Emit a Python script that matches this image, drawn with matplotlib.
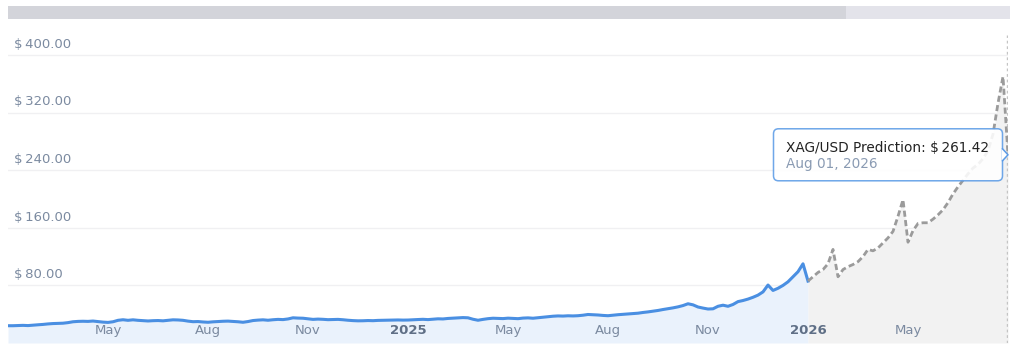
import numpy as np
import matplotlib
matplotlib.use("Agg")
import matplotlib.pyplot as plt
from matplotlib.patches import FancyBboxPatch, Rectangle, Polygon
from matplotlib.transforms import blended_transform_factory

# historical XAG/USD, one sample per ~5 px of the ordinal axis
hist = [
    24.0, 24.0, 24.3, 24.5, 24.2, 24.8, 25.3, 25.8, 26.5, 27.0,
    27.2, 27.5, 28.3, 29.5, 30.0, 30.2, 30.0, 30.5, 29.8, 29.0,
    28.6, 29.5, 31.5, 32.3, 31.5, 32.2, 31.5, 31.0, 30.6, 31.0,
    31.2, 30.8, 31.5, 32.2, 32.0, 31.5, 30.4, 29.6, 29.8, 29.2,
    28.8, 29.4, 29.8, 30.2, 30.4, 30.0, 29.5, 28.8, 29.8, 31.2,
    31.8, 32.2, 31.6, 32.3, 32.8, 32.5, 33.4, 35.0, 34.6, 34.4,
    33.6, 32.8, 33.2, 32.9, 32.4, 32.6, 32.8, 32.3, 31.6, 31.1,
    30.8, 30.9, 31.2, 31.0, 31.4, 31.5, 31.7, 31.9, 32.0, 31.8,
    31.9, 32.3, 32.6, 32.9, 32.5, 33.1, 33.6, 33.4, 34.1, 34.5,
    34.8, 35.3, 35.0, 33.0, 31.6, 32.8, 33.8, 34.4, 34.2, 33.9,
    34.5, 34.2, 33.8, 34.6, 34.9, 34.4, 35.1, 35.8, 36.6, 37.2,
    37.6, 37.4, 37.8, 37.6, 37.9, 38.6, 39.6, 39.3, 38.9, 38.3,
    37.9, 38.6, 39.3, 39.8, 40.3, 40.9, 41.4, 42.4, 43.2, 44.2,
    45.2, 46.5, 47.6, 48.8, 50.2, 52.0, 54.5, 53.0, 50.0, 48.5,
    47.2, 47.5, 51.0, 52.5, 51.0, 53.5, 57.5, 59.0, 61.0, 63.5,
    66.5, 71.0, 80.5, 73.0, 76.0, 80.0, 85.0, 92.0, 99.0, 110.0,
    86.0,
]

# prediction, starts at the last historical value
pred = [
    86, 92, 98, 102, 110, 130, 92, 102, 106, 109,
    113, 120, 130, 128, 132, 139, 146, 155, 176, 199,
    140, 156, 166, 167, 167, 172, 178, 185, 195, 207,
    217, 226, 235, 243, 248, 256, 267, 290, 333, 370,
    261.42,
]

tick_labels = ["May", "Aug", "Nov", "2025", "May", "Aug", "Nov", "2026", "May"]
tick_bold = [False, False, False, True, False, False, False, True, False]
tick_every = 20  # samples between axis labels

y_ticks = [80, 160, 240, 320, 400]
hover_label = "XAG/USD Prediction: $\u2009261.42"
hover_date = "Aug 01, 2026"

W, H = 1024, 358
fig = plt.figure(figsize=(W / 100, H / 100), dpi=100)
fig.patch.set_facecolor("white")

ax = fig.add_axes([8 / W, (H - 343) / H, 1000 / W, 308 / H])
x_hist = np.arange(len(hist))
x_pred = np.arange(len(pred)) + len(hist) - 1

ax.fill_between(x_hist, hist, 0, color="#eaf2fc", lw=0, zorder=1)
ax.fill_between(x_pred, pred, 0, color="#f2f2f2", lw=0, zorder=1)
ax.plot(x_hist, hist, color="#4a8fe2", lw=2.2, solid_joinstyle="round", zorder=3)
ax.plot(x_pred, pred, color="#9b9b9b", lw=2.0, ls=(0, (2.2, 1.2)), zorder=3)

ax.set_xlim(0, x_pred[-1])
ax.set_ylim(0, 427.8)
ax.set_yticks(y_ticks)
ax.set_xticks([])
ax.tick_params(left=False, labelleft=False)
ax.grid(axis="y", color="#f0f0f2", lw=1)
ax.set_axisbelow(True)
for s in ax.spines.values():
    s.set_visible(False)

for v in y_ticks:
    ax.annotate(f"$\u2009{v:.2f}", xy=(0, v), xycoords=("axes fraction", "data"),
                xytext=(4.5, 3), textcoords="offset points", ha="left", va="bottom",
                fontsize=9.5, color="#7b8aa0")

bt = blended_transform_factory(ax.transData, ax.transAxes)
for i, (lab, b) in enumerate(zip(tick_labels, tick_bold)):
    ax.text((i + 1) * tick_every, 0.042, lab, transform=bt, ha="center", va="center",
            fontsize=9.5, fontweight="bold" if b else "normal",
            color="#5f6f86" if b else "#7b8aa0", zorder=4)

# hover line
ax.axvline(x_pred[-1] - 0.2, color="#c4c4c4", lw=1, ls=(0, (2, 2)), zorder=2)

# overlay in pixel coordinates for scrollbar and tooltip
ov = fig.add_axes([0, 0, 1, 1], facecolor="none")
ov.set_xlim(0, W)
ov.set_ylim(H, 0)
ov.axis("off")

ov.add_patch(Rectangle((8, 6), 1002, 13, color="#e3e3ea", lw=0))
ov.add_patch(Rectangle((8, 6), 838, 13, color="#d3d4da", lw=0))

tip = ov.transData.inverted().transform(ax.transData.transform((x_pred[-1], pred[-1])))
bx1 = tip[0] - 5.5
bx0 = bx1 - 229
by0, by1 = tip[1] - 26, tip[1] + 26
box = FancyBboxPatch((bx0, by0), bx1 - bx0, by1 - by0,
                     boxstyle="round,pad=0,rounding_size=5",
                     fc="white", ec="#5b9be6", lw=1.1, alpha=0.88, zorder=5)
ov.add_patch(box)
ov.add_patch(Polygon([(bx1 - 0.6, tip[1] - 6), (tip[0], tip[1]), (bx1 - 0.6, tip[1] + 6)],
                     closed=True, fc="white", ec="none", zorder=6))
ov.plot([bx1, tip[0], bx1], [tip[1] - 6, tip[1], tip[1] + 6], color="#5b9be6", lw=1.1, zorder=7)
ov.text(bx0 + 12.5, tip[1] - 7, hover_label, ha="left", va="center", fontsize=9.8,
        color="#222222", zorder=8)
ov.text(bx0 + 12.5, tip[1] + 9.5, hover_date, ha="left", va="center", fontsize=9.8,
        color="#8a9bb3", zorder=8)

fig.savefig("out.png", dpi=100)
